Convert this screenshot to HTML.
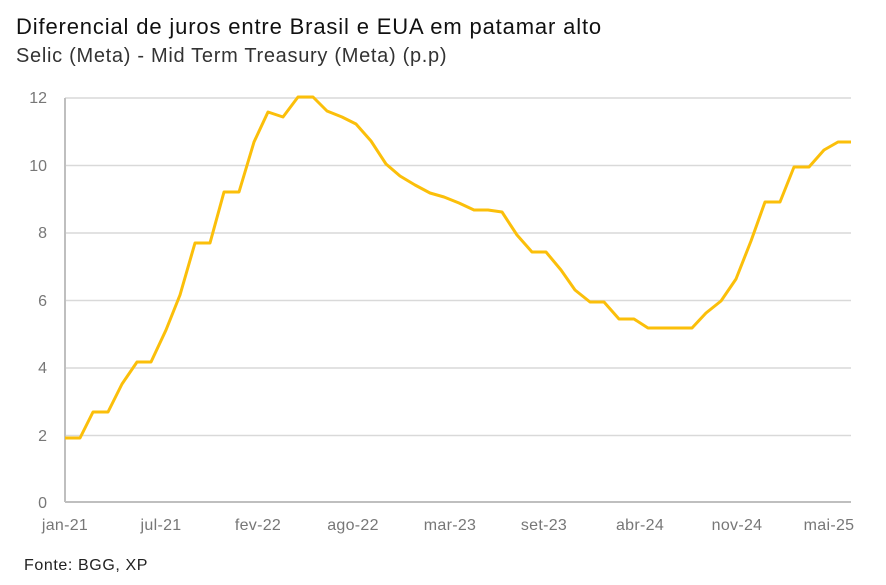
<!DOCTYPE html>
<html><head><meta charset="utf-8"><style>
body{margin:0;background:#fff;}
svg{display:block;font-family:"Liberation Sans",sans-serif;}
</style></head><body>
<svg width="886" height="585" viewBox="0 0 886 585">
<text x="16" y="34" font-size="22" fill="#111" letter-spacing="0.85">Diferencial de juros entre Brasil e EUA em patamar alto</text>
<text x="16" y="62" font-size="20" fill="#333" letter-spacing="0.7">Selic (Meta) - Mid Term Treasury (Meta) (p.p)</text>
<g stroke="#d9d9d9" stroke-width="1.5">
<line x1="65" x2="851" y1="435.5" y2="435.5"/>
<line x1="65" x2="851" y1="368" y2="368"/>
<line x1="65" x2="851" y1="300.5" y2="300.5"/>
<line x1="65" x2="851" y1="233" y2="233"/>
<line x1="65" x2="851" y1="165.5" y2="165.5"/>
<line x1="65" x2="851" y1="98" y2="98"/>
</g>
<g stroke="#bfbfbf" stroke-width="2"><line x1="65" x2="851" y1="502" y2="502"/><line x1="65" x2="65" y1="98" y2="502"/></g>
<g font-size="16" fill="#777" text-anchor="end">
<text x="47" y="508">0</text><text x="47" y="441">2</text><text x="47" y="373">4</text>
<text x="47" y="306">6</text><text x="47" y="238">8</text><text x="47" y="171">10</text><text x="47" y="103">12</text>
</g>
<g font-size="16" fill="#777" text-anchor="middle" letter-spacing="0.3">
<text x="65" y="530">jan-21</text><text x="161" y="530">jul-21</text><text x="258" y="530">fev-22</text>
<text x="353" y="530">ago-22</text><text x="450" y="530">mar-23</text><text x="544" y="530">set-23</text>
<text x="640" y="530">abr-24</text><text x="737" y="530">nov-24</text><text x="829" y="530">mai-25</text>
</g>
<polyline fill="none" stroke="#fbbf0a" stroke-width="3" stroke-linejoin="round" points="65,438 80,438 93,412 108,412 122,384 137,362 151,362 166,330 180,295 195,243 210,243 224,192 239,192 254,142 268,112 283,117 298,97 313,97 327,111 342,117 356,124 371,141 386,164 400,176 415,185 430,193 444,197 459,203 474,210 488,210 502,212 517,235 532,252 546,252 561,270 575,290 590,302 604,302 619,319 634,319 648,328 663,328 677,328 692,328 706,313 721,301 736,279 751,241 765,202 780,202 794,167 809,167 824,150 838,142 851,142"/>
<text x="24" y="570" font-size="16" fill="#222" letter-spacing="0.6">Fonte: BGG, XP</text>
</svg>
</body></html>
